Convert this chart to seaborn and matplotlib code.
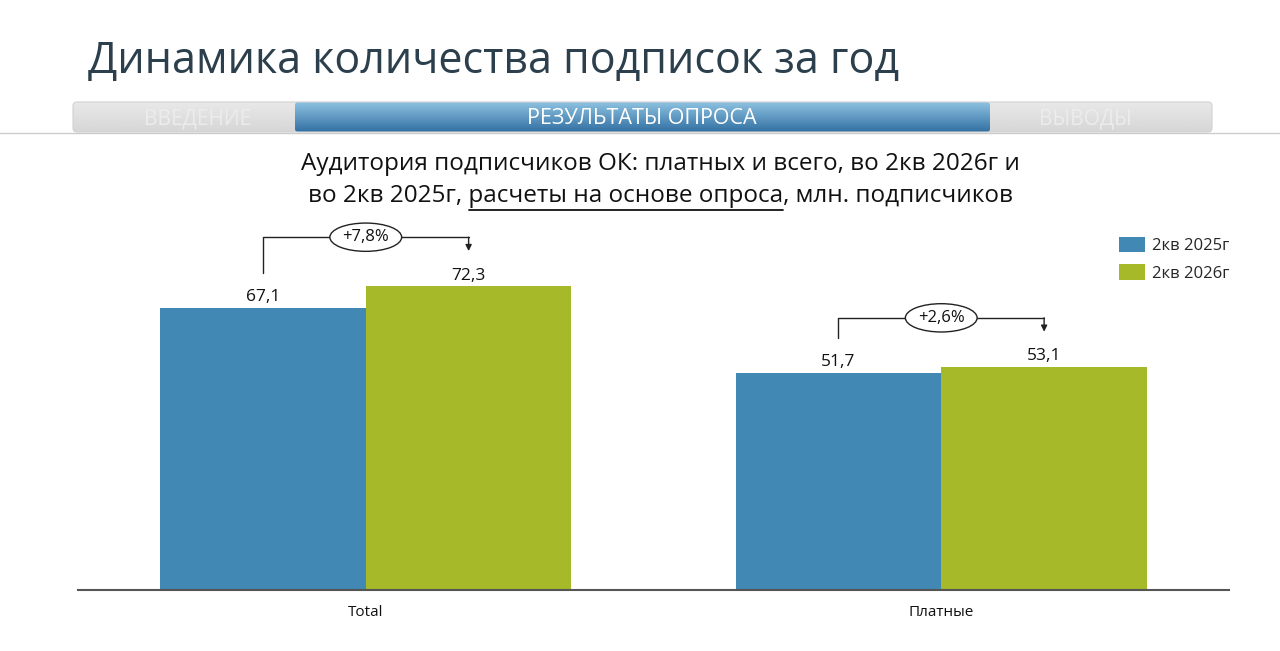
import numpy as np
import pandas as pd
import matplotlib
matplotlib.use("Agg")
import matplotlib.pyplot as plt
from matplotlib.patches import FancyBboxPatch
import seaborn as sns

# data
categories = ["Total", "Платные"]
periods = ["2кв 2025г", "2кв 2026г"]
values_2025 = [67.1, 51.7]
values_2026 = [72.3, 53.1]
growth_labels = ["+7,8%", "+2,6%"]
colors = ["#4189b4", "#a6b928"]

title = "Динамика количества подписок за год"
tabs = ["ВВЕДЕНИЕ", "РЕЗУЛЬТАТЫ ОПРОСА", "ВЫВОДЫ"]
sub_line1 = "Аудитория подписчиков ОК: платных и всего, во 2кв 2026г и"
sub_parts = ["во 2кв 2025г, ", "расчеты на основе опроса", ", млн. подписчиков"]

df = pd.DataFrame({
    "category": categories * 2,
    "period": [periods[0]] * 2 + [periods[1]] * 2,
    "value": values_2025 + values_2026,
})

sns.set_style("white")
plt.rcParams["font.family"] = ["Open Sans", "DejaVu Sans"]

fig = plt.figure(figsize=(12.8, 6.51), dpi=100)

# background axes in pixel coords for the slide header
bg = fig.add_axes([0, 0, 1, 1], zorder=0)
bg.set_xlim(0, 1280)
bg.set_ylim(651, 0)
bg.axis("off")

bg.text(88, 62, title, fontsize=31, color="#2c3f4c", va="center", ha="left")

gray = np.linspace(0.91, 0.84, 50).reshape(-1, 1)
gray_box = FancyBboxPatch((73, 102), 1139, 30, boxstyle="round,pad=0,rounding_size=4",
                          fc="none", ec="#d2d2d2", lw=0.8)
bg.add_patch(gray_box)
im = bg.imshow(gray, cmap="gray", vmin=0, vmax=1, extent=(73, 1212, 132, 102), aspect="auto")
im.set_clip_path(gray_box)

blue_grad = np.linspace(0, 1, 50)
top_c = np.array([0.55, 0.76, 0.88])
bot_c = np.array([0.20, 0.44, 0.64])
blue_img = (top_c[None, :] * (1 - blue_grad[:, None]) + bot_c[None, :] * blue_grad[:, None])
blue_box = FancyBboxPatch((295, 102), 695, 30, boxstyle="round,pad=0,rounding_size=3",
                          fc="none", ec="none")
bg.add_patch(blue_box)
im2 = bg.imshow(blue_img[:, None, :], extent=(295, 990, 132, 102), aspect="auto")
im2.set_clip_path(blue_box)
bg.plot([0, 1280], [132.5, 132.5], color="#cccccc", lw=1)

bg.text(198, 119, tabs[0], fontsize=15, color="#ececec", ha="center", va="center")
bg.text(642, 119, tabs[1], fontsize=15.5, color="white", ha="center", va="center")
bg.text(1085, 119, tabs[2], fontsize=15, color="#ececec", ha="center", va="center")

# subtitle
sub_fs = 17.5
bg.text(660, 164, sub_line1, fontsize=sub_fs, color="#111111", ha="center", va="center")
line2 = "".join(sub_parts)
bg.text(660, 196, line2, fontsize=sub_fs, color="#111111", ha="center", va="center")
renderer = fig.canvas.get_renderer()


def text_w(s):
    t = bg.text(0, 0, s, fontsize=sub_fs)
    w = t.get_window_extent(renderer).width
    t.remove()
    return w


full_w = text_w(line2)
left = 660 - full_w / 2
u0 = left + text_w(sub_parts[0] + "р") - text_w("р") + 1
u1 = left + text_w(sub_parts[0] + sub_parts[1])
bg.plot([u0, u1], [210, 210], color="#111111", lw=1.3)

# chart
ax = fig.add_axes([78 / 1280, 61 / 651, 1151 / 1280, 370 / 651], zorder=1)
ax.patch.set_alpha(0)
sns.barplot(data=df, x="category", y="value", hue="period", palette=colors,
            width=0.715, saturation=1, linewidth=0, ax=ax, legend=True)
ax.set_xlim(-0.5, 1.5)
ax.set_ylim(0, 370 / 4.2)

for cont, vals in zip(ax.containers, [values_2025, values_2026]):
    ax.bar_label(cont, labels=[f"{v:.1f}".replace(".", ",") for v in vals],
                 fontsize=12.5, color="#111111", padding=2)

sns.despine(ax=ax, left=True)
ax.spines["bottom"].set_color("#555555")
ax.spines["bottom"].set_linewidth(1.5)
ax.set_yticks([])
ax.set_xlabel("")
ax.set_ylabel("")
ax.tick_params(axis="x", length=0, pad=11, labelsize=11, labelcolor="#111111")

# growth brackets
for i, lab in enumerate(growth_labels):
    p0 = ax.containers[0].patches[i]
    p1 = ax.containers[1].patches[i]
    x0 = p0.get_x() + p0.get_width() / 2
    x1 = p1.get_x() + p1.get_width() / 2
    v0 = values_2025[i]
    v1 = values_2026[i]
    top = v1 + 11.7
    ax.plot([x0, x0, x1], [v0 + 8.3, top, top], color="#222222", lw=1)
    ax.annotate("", xy=(x1, v1 + 8.4), xytext=(x1, top),
                arrowprops=dict(arrowstyle="-|>", color="#222222", lw=1, mutation_scale=9,
                                shrinkA=0, shrinkB=0))
    ax.text((x0 + x1) / 2, top, lab, fontsize=12, ha="center", va="center", color="#111111",
            bbox=dict(boxstyle="ellipse,pad=0.12", fc="white", ec="#222222", lw=1))

ax.legend(loc="upper left", bbox_to_anchor=(1104 / 1280, 1 - 222 / 651),
          bbox_transform=fig.transFigure, frameon=False, fontsize=12,
          handlelength=1.55, handleheight=1.05, handletextpad=0.45, labelspacing=0.6)

fig.savefig("out.png", dpi=100, facecolor="white")
